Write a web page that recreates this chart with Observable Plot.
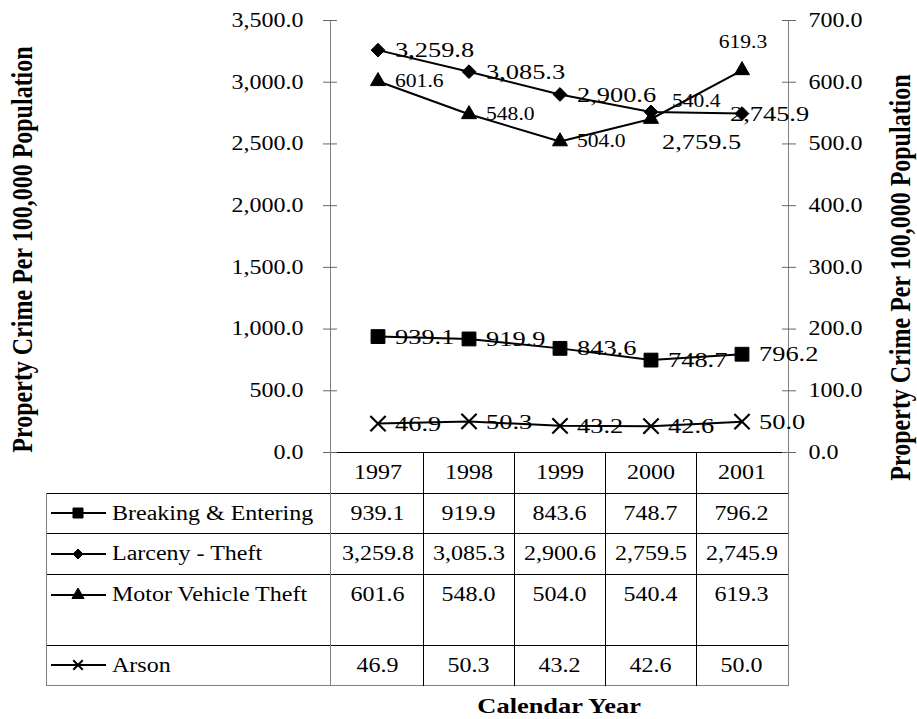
<!DOCTYPE html>
<html><head><meta charset="utf-8">
<script src="https://cdn.jsdelivr.net/npm/d3@7"></script>
<script src="https://cdn.jsdelivr.net/npm/@observablehq/plot@0.6"></script>
<style>
body{margin:0;background:#fff;font-family:"Liberation Serif","Times New Roman",serif;color:#000;}
#wrap{position:relative;width:917px;height:719px;overflow:hidden;background:#fff;}
.cell{position:absolute;display:flex;align-items:center;font-size:20px;white-space:nowrap;}
.sx{display:inline-block;transform:scaleX(1.2);white-space:nowrap;}
.ln{position:absolute;}
</style></head><body><div id="wrap"></div><script>
// ---- data ----
const years = [1997, 1998, 1999, 2000, 2001];
const breakingEntering = [939.1, 919.9, 843.6, 748.7, 796.2];
const larcenyTheft = [3259.8, 3085.3, 2900.6, 2759.5, 2745.9];
const motorVehicleTheft = [601.6, 548.0, 504.0, 540.4, 619.3];
const arson = [46.9, 50.3, 43.2, 42.6, 50.0];
const seriesNames = ["Breaking & Entering", "Larceny - Theft", "Motor Vehicle Theft", "Arson"];
const leftTicks = [0, 500, 1000, 1500, 2000, 2500, 3000, 3500];
const rightTicks = [0, 100, 200, 300, 400, 500, 600, 700];
const yTitle = "Property Crime Per 100,000 Population";
const xTitle = "Calendar Year";

const fmt = d3.format(",.1f");
const k = d3.max(leftTicks) / d3.max(rightTicks);
const STRETCH = 1.2;

const series = [
  {name: seriesNames[0], values: breakingEntering, axis: "left", symbol: "square", r: 7.8, lab: 22, lsym: d3.symbolSquare, lsize: 100},
  {name: seriesNames[1], values: larcenyTheft, axis: "left", symbol: "diamond2", r: 6.2, lab: 22, lsym: d3.symbolDiamond2, lsize: 64},
  {name: seriesNames[2], values: motorVehicleTheft, axis: "right", symbol: "triangle", r: 5.6, lab: 18, lsym: d3.symbolTriangle, lsize: 64},
  {name: seriesNames[3], values: arson, axis: "right", symbol: "times", r: 7, lab: 22, lsym: d3.symbolTimes, lsize: 60}
];
const rows = series.flatMap(s => years.map((year, i) => ({
  series: s.name, year, value: s.values[i], y: s.axis === "right" ? s.values[i] * k : s.values[i]
})));

// label placement tweaks (style, not data)
const labelOffsets = {
  "Larceny - Theft|2000": {dx: 11, dy: 30},
  "Larceny - Theft|2001": {dx: -12, dy: 0},
  "Motor Vehicle Theft|2000": {dx: 21, dy: -18},
  "Motor Vehicle Theft|2001": {dx: 1, dy: -28, textAnchor: "middle"}
};
const key = d => d.series + "|" + d.year;

const labelMarks = [];
series.forEach(s => {
  const own = rows.filter(d => d.series === s.name);
  labelMarks.push(Plot.text(own.filter(d => !labelOffsets[key(d)]), {
    x: "year", y: "y", text: d => fmt(d.value), dx: 17, textAnchor: "start", fontSize: s.lab, fill: "#000"
  }));
  own.filter(d => labelOffsets[key(d)]).forEach(d => {
    const o = labelOffsets[key(d)];
    labelMarks.push(Plot.text([d], {
      x: "year", y: "y", text: d => fmt(d.value), dx: o.dx, dy: o.dy,
      textAnchor: o.textAnchor || "start", fontSize: s.lab, fill: "#000"
    }));
  });
});

const chart = Plot.plot({
  width: 917, height: 490,
  marginLeft: 330, marginRight: 129, marginTop: 20, marginBottom: 38,
  x: {type: "band", domain: years, padding: 0, axis: null},
  y: {domain: [0, d3.max(leftTicks)], axis: null},
  style: {fontFamily: "Liberation Serif, Times New Roman, serif", fontSize: "20px", color: "#000", background: "transparent", overflow: "visible"},
  marks: [
    Plot.frame({anchor: "left", stroke: "#808080"}),
    Plot.frame({anchor: "right", stroke: "#808080"}),
    Plot.ruleY([0], {stroke: "#000"}),
    Plot.axisY(leftTicks, {anchor: "left", tickSize: 14, dx: 7, tickPadding: 20, tickFormat: fmt, stroke: "#666", fill: "#000", fontSize: 20, label: null}),
    Plot.axisY(rightTicks.map(v => v * k), {anchor: "right", tickSize: 14, dx: -7, tickPadding: 13, tickFormat: d => fmt(d / k), stroke: "#666", fill: "#000", fontSize: 20, label: null}),
    Plot.line(rows, {x: "year", y: "y", z: "series", stroke: "#000", strokeWidth: 2}),
    ...series.map(s => Plot.dot(rows.filter(d => d.series === s.name), {
      x: "year", y: "y", symbol: s.symbol, r: s.r,
      fill: s.symbol === "times" ? "none" : "#000", stroke: "#000", strokeWidth: s.symbol === "times" ? 2.2 : 1
    })),
    ...labelMarks,
    Plot.text([yTitle], {frameAnchor: "left", textAnchor: "middle", rotate: -90, dx: -308, dy: 13, fontSize: 24, fontWeight: "bold", fill: "#000"}),
    Plot.text([yTitle], {frameAnchor: "right", textAnchor: "middle", rotate: -90, dx: 112, dy: 41, fontSize: 24, fontWeight: "bold", fill: "#000"})
  ]
});

const wrap = d3.select("#wrap");
wrap.node().appendChild(chart);
d3.select(chart).style("position", "absolute").style("left", "0px").style("top", "0px");

// horizontal stretch of type to match the reference's wide lettering
d3.select(chart).selectAll("text").each(function() {
  const t = this.getAttribute("transform") || "";
  this.setAttribute("transform", t.includes("rotate")
    ? t.replace("rotate", `scale(${STRETCH},1) rotate`)
    : (t + ` scale(${STRETCH},1)`));
});

// ---- data table below the chart ----
const xs = chart.scale("x"), ys = chart.scale("y");
const bw = xs.bandwidth;
const colStarts = years.map(y => xs.apply(y));
const x0 = xs.range[0], x1 = xs.range[1];
const top0 = ys.range[0];
const tableLeft = 46;
const rowH = [41, 40, 41, 71, 40];
const rowTops = [];
let acc = top0;
rowH.forEach(h => { rowTops.push(acc); acc += h; });
const bottom = acc;

function line(x, y, w, h, color) {
  wrap.append("div").attr("class", "ln")
    .style("left", Math.round(x) + "px").style("top", Math.round(y) + "px")
    .style("width", w + "px").style("height", h + "px").style("background", color);
}
// horizontal rules
for (let i = 1; i < rowTops.length; i++) line(tableLeft, rowTops[i], Math.round(x1) - tableLeft + 1, 1, "#000");
line(tableLeft, bottom, Math.round(x1) - tableLeft + 1, 1, "#808080");
// vertical rules
line(tableLeft, rowTops[1], 1, bottom - rowTops[1] + 1, "#808080");
line(x0, top0, 1, bottom - top0 + 1, "#808080");
colStarts.slice(1).forEach(c => line(c, top0, 1, bottom - top0 + 1, "#000"));
line(x1, top0, 1, bottom - top0 + 1, "#808080");

function cell(text, left, top, width, height, align) {
  const d = wrap.append("div").attr("class", "cell")
    .style("left", left + "px").style("top", top + "px")
    .style("width", width + "px").style("height", height + "px")
    .style("justify-content", align === "left" ? "flex-start" : "center");
  d.append("span").attr("class", "sx")
    .style("transform-origin", align === "left" ? "left center" : "center center")
    .text(text);
  return d;
}
const boxH = i => Math.min(rowH[i], 41);
// header
years.forEach((y, j) => cell(String(y), colStarts[j], rowTops[0], bw, boxH(0), "center"));
// body
series.forEach((s, i) => {
  const r = i + 1;
  const top = rowTops[r], h = boxH(r);
  // legend key
  const svg = wrap.append("svg").style("position", "absolute")
    .style("left", (tableLeft + 3) + "px").style("top", (top + h / 2 - 10) + "px")
    .attr("width", 60).attr("height", 20);
  svg.append("line").attr("x1", 2).attr("x2", 57).attr("y1", 10).attr("y2", 10)
    .attr("stroke", "#000").attr("stroke-width", 2);
  svg.append("path").attr("transform", "translate(29,10)")
    .attr("d", d3.symbol(s.lsym, s.lsize)())
    .attr("fill", s.lsym === d3.symbolTimes ? "none" : "#000")
    .attr("stroke", "#000").attr("stroke-width", s.lsym === d3.symbolTimes ? 2 : 1);
  cell(s.name, tableLeft + 66, top, x0 - tableLeft - 66, h, "left");
  s.values.forEach((v, j) => cell(fmt(v), colStarts[j], top, bw, h, "center"));
});

// x-axis title
const xt = wrap.append("div").attr("class", "cell")
  .style("left", x0 + "px").style("top", (bottom + 8) + "px")
  .style("width", (x1 - x0) + "px").style("height", "26px")
  .style("justify-content", "center").style("font-size", "22px").style("font-weight", "bold");
xt.append("span").attr("class", "sx").style("transform-origin", "center center").text(xTitle);
</script></body></html>
